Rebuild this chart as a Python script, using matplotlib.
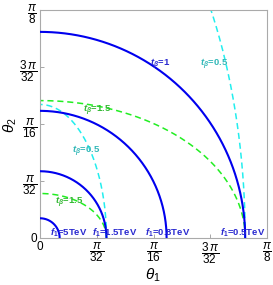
import numpy as np
import matplotlib
matplotlib.use('Agg')
import matplotlib.pyplot as plt

plt.rcParams['font.family'] = ['Liberation Sans', 'DejaVu Sans']
plt.rcParams['mathtext.fontset'] = 'custom'
plt.rcParams['mathtext.rm'] = 'Liberation Sans'
plt.rcParams['mathtext.it'] = 'Liberation Sans:italic'
plt.rcParams['mathtext.bf'] = 'Liberation Sans:bold'
plt.rcParams['mathtext.bfit'] = 'Liberation Sans:italic:bold'

# contour data
f1_labels = ['5TeV', '1.5TeV', '0.8TeV', '0.5TeV']
radius = [0.034, 0.115, 0.219, 0.355]      # theta1 intercept for t_beta = 1
tb_green = 1.5
tb_cyan = 0.5
dashed_idx = [1, 3]                        # f1 = 1.5TeV and 0.5TeV

# label positions (data coords)
f1_label_x = [0.0493, 0.1298, 0.2206, 0.3512]
f1_label_y = 0.0087
tb_labels = [
    ('1', 0.2076, 0.2993, '#2a2ad0'),
    ('0.5', 0.302, 0.2993, '#33b8b8'),
    ('1.5', 0.0995, 0.2197, '#33b833'),
    ('0.5', 0.0796, 0.1488, '#33b8b8'),
    ('1.5', 0.051, 0.0606, '#33b833'),
]

fig = plt.figure(figsize=(2.73, 2.85), dpi=100)
ax = fig.add_axes([40 / 273, 47 / 285, 227 / 273, 228 / 285])

phi = np.linspace(0, np.pi / 2, 300)
for i, r in enumerate(radius):
    ax.plot(r * np.cos(phi), r * np.sin(phi), color='#0000ee', lw=1.5, zorder=3)
for i in dashed_idx:
    r = radius[i]
    ax.plot(r * np.cos(phi), r / tb_green * np.sin(phi), color='#22ee22',
            lw=1.1, ls=(0, (4, 2.5)), zorder=2)
    ax.plot(r * np.cos(phi), r / tb_cyan * np.sin(phi), color='#22eeee',
            lw=1.1, ls=(0, (4, 2.5)), zorder=2)

for lab, x in zip(f1_labels, f1_label_x):
    ax.text(x, f1_label_y, r'$\mathbfit{f}_{\mathbf{1}}$=' + lab, color='#2a2ad0',
            fontsize=6.8, fontweight='bold', ha='center', va='center', zorder=4)
for val, x, y, c in tb_labels:
    ax.text(x, y, r'$\mathbfit{t}_{\mathbfit{\beta}}$=' + val, color=c,
            fontsize=6.8, fontweight='bold', ha='center', va='center', zorder=4)

lim = np.pi / 8
ax.set_xlim(0, lim)
ax.set_ylim(0, lim)
ticks = [0, np.pi / 32, np.pi / 16, 3 * np.pi / 32, np.pi / 8]
tick_labels = ['0', r'$\dfrac{\pi}{32}$', r'$\dfrac{\pi}{16}$',
               r'$\dfrac{3\,\pi}{32}$', r'$\dfrac{\pi}{8}$']
ax.set_xticks(ticks)
ax.set_xticklabels(tick_labels)
ax.set_yticks(ticks)
ax.set_yticklabels(tick_labels)
ax.tick_params(direction='in', length=3, width=0.6, color='#999999',
               labelsize=8.5, pad=2)
for s in ax.spines.values():
    s.set_color('#aaaaaa')
    s.set_linewidth(0.8)

fig.text(153 / 273, 1 - 275 / 285, r'$\theta_1$', fontsize=11, ha='center', va='center')
fig.text(10 / 273, 1 - 125 / 285, r'$\theta_2$', fontsize=11, ha='center', va='center',
         rotation=90)

fig.savefig('out.png', dpi=100)
